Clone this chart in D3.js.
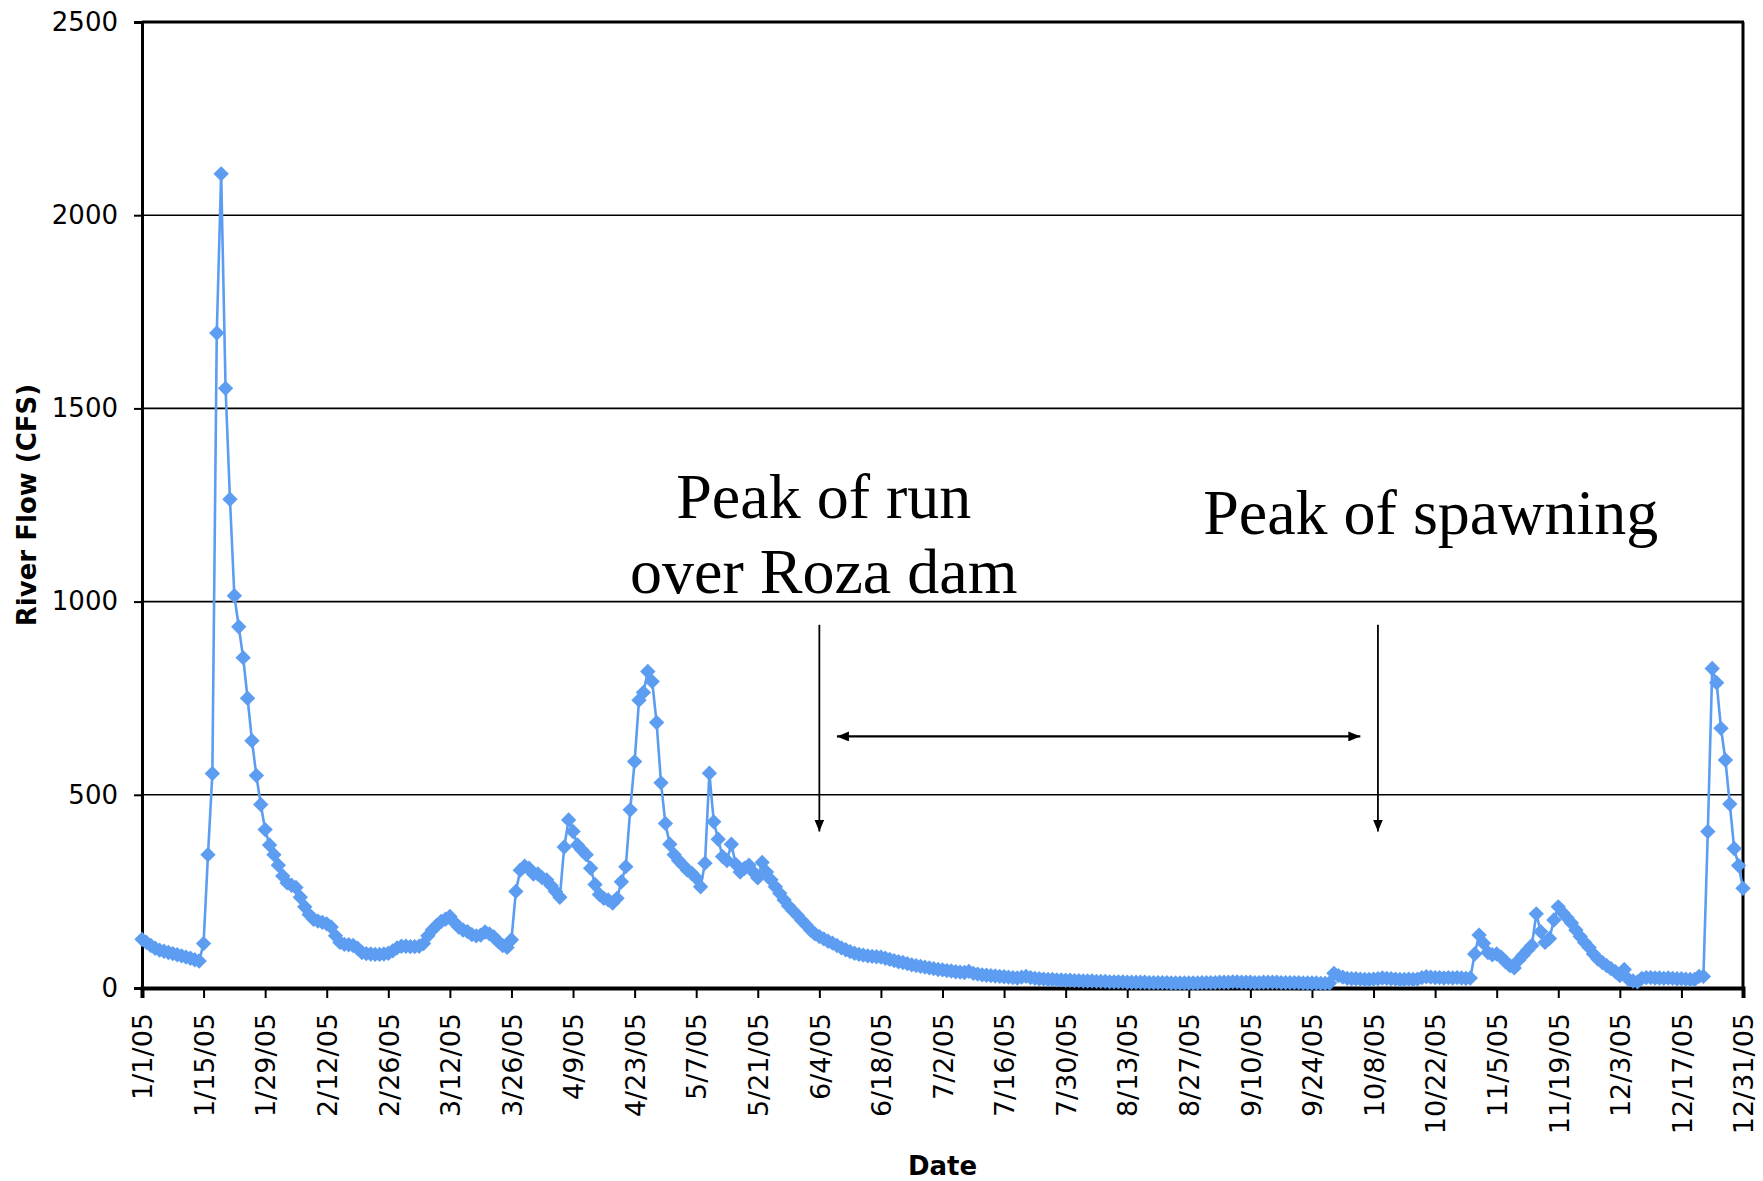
<!DOCTYPE html>
<html>
<head>
<meta charset="utf-8">
<script src="https://cdn.jsdelivr.net/npm/d3@7"></script>
<style>
  html, body { margin: 0; padding: 0; background: #ffffff; }
  svg { display: block; }
</style>
</head>
<body>
<svg id="chart" width="1763" height="1181"></svg>
<script>
// ---------------- DATA (daily river flow, CFS, 2005) ----------------
const startDate = "1/1/05";
const janFlow = [126,118,110,103,98,95,92,89,86,83,80,77,73,70,115,345,555,1695,2107,1552,1265,1015,935,855,750,640,550,475,410,370,345];
const febFlow = [318,290,272,266,260,235,210,190,178,173,170,166,158,135,118,113,112,110,103,92,89,88,87,87,88,90,96,104];
const marFlow = [108,108,107,107,108,115,135,150,162,172,178,185,170,158,150,146,138,135,137,145,140,132,120,110,105,125,250,305,315,310,295];
const aprFlow = [295,285,280,265,250,235,365,435,405,370,357,345,310,268,242,232,228,220,232,275,314,461,586,745,765,819,793,687,531,426];
const mayFlow = [372,345,330,318,305,297,285,262,323,556,430,385,340,330,372,320,300,310,318,300,285,325,300,280,262,245,228,212,200,188,175];
const junFlow = [163,150,140,133,127,121,116,110,104,99,94,90,87,85,83,82,81,80,77,74,71,68,66,63,60,58,56,54,52,50];
const julFlow = [48,47,45,44,42,41,40,43,38,36,34,33,32,31,30,29,28,27,26,28,30,27,25,24,23,22,22,21,21,20,20];
const augFlow = [19,19,18,18,18,17,17,17,16,16,16,16,15,15,15,15,15,14,14,14,14,14,13,13,13,13,13,13,13,14,14];
const sepFlow = [14,14,15,15,15,16,16,15,15,15,14,14,15,15,15,15,14,14,14,14,14,13,13,13,13,12,12,13,38,32];
const octFlow = [28,25,24,24,23,22,22,23,24,26,25,24,23,22,22,23,22,23,27,29,28,27,27,26,27,26,27,26,25,26,88];
const novFlow = [137,116,92,86,88,80,68,58,52,72,85,98,110,192,146,118,128,176,210,195,182,168,150,133,118,105,88,75,66,58];
const decFlow = [50,42,32,48,22,18,16,25,27,27,26,26,25,26,25,24,24,23,22,22,30,30,405,827,790,672,590,476,361,317,258];

const yTickValues = [0, 500, 1000, 1500, 2000, 2500];
const gridValues = [500, 1000, 1500, 2000];
const xTickLabels = ["1/1/05","1/15/05","1/29/05","2/12/05","2/26/05","3/12/05","3/26/05","4/9/05",
  "4/23/05","5/7/05","5/21/05","6/4/05","6/18/05","7/2/05","7/16/05","7/30/05","8/13/05","8/27/05",
  "9/10/05","9/24/05","10/8/05","10/22/05","11/5/05","11/19/05","12/3/05","12/17/05","12/31/05"];
const xDomainLabels = ["1/1/05", "12/31/05"];

const yTitle = "River Flow (CFS)";
const xTitle = "Date";

// annotations: text anchored at (date, flow value)
const annotationTexts = [
  { lines: ["Peak of run", "over Roza dam"], date: "6/5/05", value: 1216, lineGap: 195 },
  { lines: ["Peak of spawning"], date: "10/21/05", value: 1176, lineGap: 0 }
];
// arrows: [date1, value1, date2, value2]
const arrowSegments = [
  ["6/4/05", 940, "6/4/05", 405],
  ["10/9/05", 940, "10/9/05", 405]
];
const doubleArrow = ["6/8/05", 651, "10/5/05", 651];

// ---------------- CHART ----------------
const parse = d3.utcParse("%m/%d/%y");
const fmt = d3.utcFormat("%-m/%-d/%y");
const months = [janFlow, febFlow, marFlow, aprFlow, mayFlow, junFlow, julFlow, augFlow, sepFlow, octFlow, novFlow, decFlow];
const flows = months.flat();
const t0 = parse(startDate);
const data = flows.map((v, i) => ({ date: d3.utcDay.offset(t0, i), value: v }));

const svg = d3.select("#chart");
const plot = { left: 142, right: 1743, top: 22, bottom: 988 };

const x = d3.scaleUtc().domain(xDomainLabels.map(parse)).range([plot.left, plot.right]);
const y = d3.scaleLinear().domain([0, 2500]).range([plot.bottom, plot.top]);

const lineColor = "#5c9df2";
const axisFont = "'DejaVu Sans', Verdana, sans-serif";

// white background
svg.append("rect").attr("width", 1763).attr("height", 1181).attr("fill", "#fff");

// gridlines
svg.append("g").selectAll("line").data(gridValues).join("line")
  .attr("x1", plot.left).attr("x2", plot.right)
  .attr("y1", d => y(d)).attr("y2", d => y(d))
  .attr("stroke", "#000").attr("stroke-width", 1.6);

// top and right border
svg.append("line").attr("x1", plot.left).attr("x2", plot.right + 1)
  .attr("y1", y(2500)).attr("y2", y(2500)).attr("stroke", "#000").attr("stroke-width", 3);
svg.append("line").attr("x1", plot.right).attr("x2", plot.right)
  .attr("y1", y(2500)).attr("y2", y(0)).attr("stroke", "#000").attr("stroke-width", 3);

// Y axis
const yAxis = svg.append("g").attr("transform", `translate(${plot.left},0)`)
  .call(d3.axisLeft(y).tickValues(yTickValues).tickSize(8).tickPadding(16).tickFormat(d3.format("d")));
yAxis.select(".domain").attr("stroke", "#000").attr("stroke-width", 3);
yAxis.selectAll(".tick line").attr("stroke", "#000").attr("stroke-width", 2);
yAxis.selectAll(".tick text").attr("font-family", axisFont).attr("font-size", 26).attr("fill", "#000");

// X axis
const xAxis = svg.append("g").attr("transform", `translate(0,${plot.bottom})`)
  .call(d3.axisBottom(x).tickValues(xTickLabels.map(parse)).tickSize(10).tickFormat(fmt));
xAxis.select(".domain").attr("stroke", "#000").attr("stroke-width", 4);
xAxis.selectAll(".tick line").attr("stroke", "#000").attr("stroke-width", 2);
xAxis.selectAll(".tick text")
  .attr("font-family", axisFont).attr("font-size", 27).attr("fill", "#000")
  .attr("transform", "rotate(-90)")
  .attr("text-anchor", "end")
  .attr("x", -25).attr("y", 0).attr("dy", "0.36em");

// Axis titles
svg.append("text")
  .attr("transform", `translate(36,${(plot.top + plot.bottom) / 2}) rotate(-90)`)
  .attr("text-anchor", "middle")
  .attr("font-family", axisFont).attr("font-weight", "bold").attr("font-size", 26)
  .text(yTitle);
svg.append("text")
  .attr("x", (plot.left + plot.right) / 2).attr("y", 1175)
  .attr("text-anchor", "middle")
  .attr("font-family", axisFont).attr("font-weight", "bold").attr("font-size", 26)
  .text(xTitle);

// Series line
const line = d3.line().x(d => x(d.date)).y(d => y(d.value));
svg.append("path").datum(data)
  .attr("d", line).attr("fill", "none")
  .attr("stroke", lineColor).attr("stroke-width", 2.6).attr("stroke-linejoin", "round");

// Series markers (diamonds)
const diamond = d3.symbol().type(d3.symbolSquare).size(118);
svg.append("g").selectAll("path").data(data).join("path")
  .attr("d", diamond)
  .attr("transform", d => `translate(${x(d.date)},${y(d.value)}) rotate(45)`)
  .attr("fill", lineColor);

// Annotations
const defs = svg.append("defs");
defs.append("marker").attr("id", "arrowhead")
  .attr("viewBox", "0 0 12 10").attr("refX", 12).attr("refY", 5)
  .attr("markerWidth", 12).attr("markerHeight", 10)
  .attr("markerUnits", "userSpaceOnUse").attr("orient", "auto-start-reverse")
  .append("path").attr("d", "M0,0 L12,5 L0,10 Z").attr("fill", "#000");

annotationTexts.forEach(a => {
  const t = svg.append("text")
    .attr("x", x(parse(a.date))).attr("y", y(a.value))
    .attr("text-anchor", "middle")
    .attr("font-family", "'Liberation Serif', 'Times New Roman', serif")
    .attr("font-size", 64).attr("fill", "#000");
  a.lines.forEach((ln, i) => {
    t.append("tspan").attr("x", x(parse(a.date)))
      .attr("y", y(a.value - i * a.lineGap)).text(ln);
  });
});

arrowSegments.forEach(s => {
  svg.append("line")
    .attr("x1", x(parse(s[0]))).attr("y1", y(s[1]))
    .attr("x2", x(parse(s[2]))).attr("y2", y(s[3]))
    .attr("stroke", "#000").attr("stroke-width", 1.8)
    .attr("marker-end", "url(#arrowhead)");
});
svg.append("line")
  .attr("x1", x(parse(doubleArrow[0]))).attr("y1", y(doubleArrow[1]))
  .attr("x2", x(parse(doubleArrow[2]))).attr("y2", y(doubleArrow[3]))
  .attr("stroke", "#000").attr("stroke-width", 2.2)
  .attr("marker-start", "url(#arrowhead)").attr("marker-end", "url(#arrowhead)");
</script>
</body>
</html>
